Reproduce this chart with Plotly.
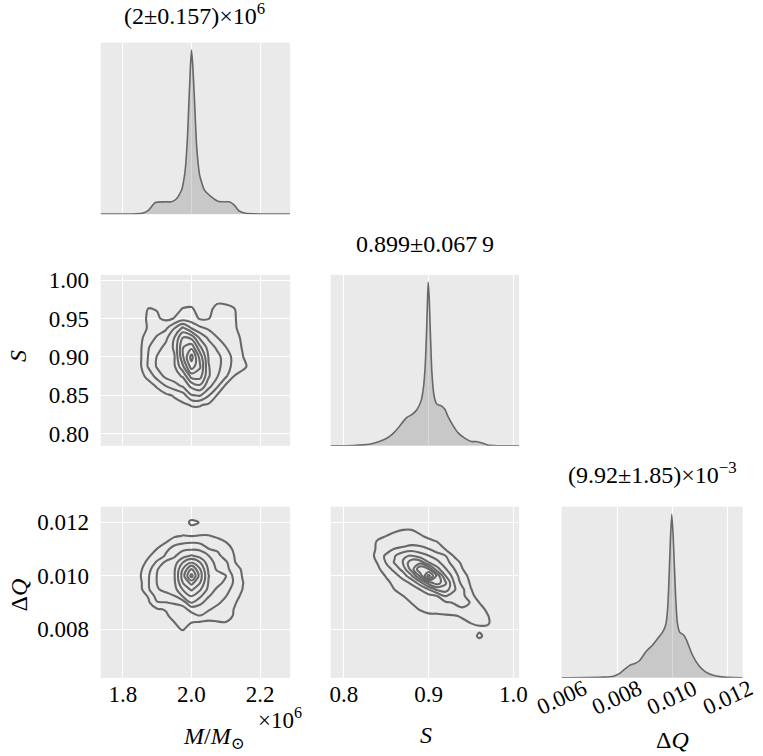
import plotly.graph_objects as go

W, H = 763, 756

# ---------------- 1D marginals (relative density, peak = 1) ----------------
m_vals = [1.734, 1.827, 1.856, 1.875, 1.894, 1.923, 1.942, 1.957, 1.971, 1.981, 1.988, 1.992,
          1.997, 2.000, 2.004, 2.0096, 2.015, 2.024, 2.038, 2.058, 2.077, 2.096, 2.110, 2.125,
          2.139, 2.158, 2.201, 2.287]
m_dens = [0.002, 0.002, 0.006, 0.026, 0.072, 0.076, 0.076, 0.096, 0.147, 0.257, 0.458, 0.659,
          0.90, 1.0, 0.90, 0.659, 0.418, 0.237, 0.147, 0.106, 0.080, 0.076, 0.076, 0.056,
          0.020, 0.006, 0.002, 0.002]

s_vals = [0.7845, 0.8109, 0.8302, 0.8419, 0.8496, 0.8574, 0.8651, 0.8709, 0.8748, 0.8806, 0.8864,
          0.8915, 0.8942, 0.8961, 0.8977, 0.8988, 0.8996, 0.9008, 0.9023, 0.9039, 0.9066, 0.9097,
          0.9155, 0.9194, 0.9233, 0.9291, 0.9349, 0.9426, 0.9504, 0.9562, 0.9620, 0.9698, 0.9814,
          1.0066]
s_dens = [0.0, 0.002, 0.009, 0.026, 0.043, 0.072, 0.115, 0.154, 0.175, 0.192, 0.222,
          0.281, 0.367, 0.495, 0.708, 0.900, 1.0, 0.900, 0.665, 0.452, 0.303, 0.256,
          0.243, 0.222, 0.175, 0.122, 0.079, 0.047, 0.026, 0.026, 0.019, 0.004, 0.0,
          0.0]

q_vals = [0.00599, 0.006213, 0.007515, 0.00787, 0.008107, 0.008284, 0.008462, 0.008639, 0.008817,
          0.009053, 0.00929, 0.009467, 0.009645, 0.009763, 0.009822, 0.009858, 0.009893, 0.009929,
          0.009976, 0.010024, 0.010071, 0.010118, 0.010178, 0.01026, 0.010414, 0.010533, 0.01071,
          0.010947, 0.011183, 0.01142, 0.011775, 0.01254]
q_dens = [0.0, 0.0, 0.004, 0.010, 0.029, 0.054, 0.077, 0.087, 0.106,
          0.163, 0.202, 0.240, 0.279, 0.327, 0.413, 0.529, 0.683, 0.856,
          1.0, 0.875, 0.683, 0.490, 0.337, 0.279, 0.260, 0.221, 0.144,
          0.077, 0.038, 0.019, 0.006, 0.0]

# ---------------- 2D densities (contour-level values) ----------------
m_nodes = [1.825, 1.85, 1.875, 1.9, 1.925, 1.95, 1.975, 2.0, 2.025, 2.05, 2.075, 2.1, 2.125, 2.15, 2.175]
s_nodes_a = [0.825, 0.8375, 0.85, 0.8625, 0.875, 0.8875, 0.9, 0.9125, 0.925, 0.9375, 0.95, 0.9625, 0.975]
dens_ms = [
    [0.1, 0.1, 0.1, 0.15, 0.2, 0.3, 0.4, 0.6, 0.6, 0.4, 0.3, 0.2, 0.1, 0.1, 0.1],
    [0.1, 0.15, 0.2, 0.3, 0.4, 0.6, 0.8, 1.05, 1.05, 0.8, 0.5, 0.3, 0.2, 0.1, 0.1],
    [0.1, 0.2, 0.3, 0.5, 0.75, 1.1, 1.5, 2.9, 3.05, 2.05, 0.9, 0.5, 0.3, 0.2, 0.1],
    [0.15, 0.4, 0.6, 1.13, 2.02, 2.55, 3.19, 4.3, 4.8, 3.38, 2.2, 0.8, 0.5, 0.3, 0.15],
    [0.2, 0.65, 1.3, 2.42, 3.23, 3.62, 4.1, 6.4, 6.4, 4.1, 3.07, 2.17, 0.95, 0.6, 0.3],
    [0.3, 0.8, 2.15, 3.12, 3.48, 3.84, 5.8, 8.5, 7.1, 4.05, 3.35, 2.43, 1.68, 1.2, 0.7],
    [0.3, 0.8, 2.1, 3.07, 3.5, 3.9, 6.87, 9.4, 6.6, 3.9, 3.32, 2.5, 1.68, 1.02, 0.45],
    [0.3, 0.8, 1.95, 2.6, 3.29, 4.15, 6.95, 7.7, 5.2, 3.55, 2.8, 2.02, 1.45, 0.9, 0.4],
    [0.3, 0.8, 1.4, 2.15, 2.72, 4.02, 6.02, 5.7, 3.78, 2.8, 2.02, 1.63, 1.25, 0.85, 0.35],
    [0.2, 0.6, 1.1, 1.45, 1.8, 2.95, 4.2, 2.95, 2.2, 1.82, 1.6, 1.35, 1.1, 0.7, 0.3],
    [0.2, 0.5, 1.2, 1.1, 0.8, 1.02, 1.5, 1.4, 0.9, 0.95, 1.35, 1.35, 1.1, 0.5, 0.2],
    [0.2, 0.5, 1.03, 0.95, 0.6, 0.75, 1.03, 1.08, 0.7, 0.8, 1.2, 1.2, 1.03, 0.45, 0.2],
    [0.2, 0.3, 0.6, 0.55, 0.4, 0.4, 0.6, 0.6, 0.4, 0.6, 0.8, 0.75, 0.5, 0.3, 0.2],
]

q_nodes_b = [0.00775, 0.008, 0.00825, 0.0085, 0.00875, 0.009, 0.00925, 0.0095, 0.00975, 0.010,
             0.01025, 0.0105, 0.01075, 0.011, 0.01125, 0.0115, 0.01175, 0.012, 0.01225]
dens_mq = [
    [0.1, 0.1, 0.1, 0.15, 0.25, 0.45, 0.6, 0.4, 0.3, 0.25, 0.25, 0.2, 0.15, 0.1, 0.1],
    [0.1, 0.1, 0.15, 0.25, 0.4, 0.8, 1.05, 0.65, 0.5, 0.45, 0.45, 0.45, 0.35, 0.15, 0.1],
    [0.1, 0.1, 0.2, 0.3, 0.6, 0.97, 1.3, 0.98, 0.85, 0.85, 0.9, 0.95, 0.7, 0.2, 0.1],
    [0.1, 0.1, 0.3, 0.6, 0.85, 1.25, 1.5, 1.55, 1.95, 1.3, 1.35, 1.35, 0.9, 0.3, 0.1],
    [0.1, 0.2, 0.5, 0.9, 1.05, 1.5, 1.6, 2.35, 2.5, 2.15, 1.5, 1.4, 0.95, 0.4, 0.1],
    [0.1, 0.35, 0.85, 1.9, 1.95, 2.1, 2.4, 4.02, 3.2, 2.6, 2.3, 1.45, 1.1, 0.6, 0.2],
    [0.2, 0.5, 1.1, 2.5, 2.6, 2.95, 4.1, 5.05, 4.2, 3.05, 2.55, 2.05, 1.3, 0.8, 0.25],
    [0.25, 0.7, 1.9, 2.9, 3.3, 3.6, 5.1, 6.2, 5.15, 3.7, 2.8, 2.35, 1.65, 0.95, 0.35],
    [0.3, 0.75, 1.95, 3.05, 3.45, 3.8, 6.03, 7.35, 6.03, 3.9, 3.42, 2.7, 1.85, 1.02, 0.4],
    [0.3, 0.9, 1.92, 3.06, 3.48, 3.89, 6.5, 9.4, 6.5, 4.02, 3.53, 3.05, 1.67, 0.9, 0.4],
    [0.3, 0.8, 1.64, 2.95, 3.4, 3.84, 6.05, 8.02, 6.05, 3.8, 2.83, 2.28, 1.53, 0.8, 0.3],
    [0.2, 0.6, 1.25, 2.2, 3.25, 3.5, 5.02, 6.1, 5.05, 3.4, 2.7, 2.2, 1.05, 0.6, 0.2],
    [0.15, 0.4, 0.9, 1.4, 2.1, 2.85, 3.6, 4.1, 3.6, 3.02, 2.35, 1.5, 0.98, 0.45, 0.15],
    [0.1, 0.3, 0.6, 1.02, 1.8, 2.3, 2.8, 2.9, 2.85, 2.02, 1.8, 1.4, 0.85, 0.35, 0.1],
    [0.1, 0.2, 0.4, 0.7, 0.97, 1.75, 1.85, 1.95, 1.85, 1.5, 1.3, 1.02, 0.6, 0.2, 0.1],
    [0.1, 0.1, 0.2, 0.4, 0.6, 0.8, 1.02, 0.95, 1.02, 1.03, 0.85, 0.7, 0.4, 0.15, 0.1],
    [0.1, 0.1, 0.1, 0.2, 0.3, 0.45, 0.6, 0.7, 0.65, 0.55, 0.4, 0.3, 0.2, 0.1, 0.1],
    [0.1, 0.1, 0.1, 0.1, 0.15, 0.25, 0.5, 1.2, 0.95, 0.4, 0.2, 0.15, 0.1, 0.1, 0.1],
    [0.1, 0.1, 0.1, 0.1, 0.1, 0.15, 0.3, 0.6, 0.5, 0.25, 0.1, 0.1, 0.1, 0.1, 0.1],
]

s_nodes_c = [0.82, 0.83, 0.84, 0.85, 0.86, 0.87, 0.88, 0.89, 0.90, 0.91, 0.92, 0.93, 0.94, 0.95,
             0.96, 0.97, 0.98]
q_nodes_c = [0.0075, 0.00775, 0.008, 0.00825, 0.0085, 0.00875, 0.009, 0.00925, 0.0095, 0.00975,
             0.010, 0.01025, 0.0105, 0.01075, 0.011, 0.01125, 0.0115, 0.01175, 0.012, 0.01225]
dens_sq = [
    [0.1, 0.1, 0.1, 0.1, 0.1, 0.1, 0.1, 0.1, 0.1, 0.1, 0.1, 0.1, 0.15, 0.3, 0.5, 0.3, 0.1],
    [0.1, 0.1, 0.1, 0.1, 0.1, 0.1, 0.1, 0.1, 0.15, 0.2, 0.2, 0.25, 0.3, 0.5, 1.2, 0.55, 0.2],
    [0.1, 0.1, 0.1, 0.1, 0.1, 0.1, 0.15, 0.2, 0.25, 0.3, 0.3, 0.4, 0.5, 0.7, 0.8, 0.75, 0.35],
    [0.1, 0.1, 0.1, 0.1, 0.1, 0.15, 0.2, 0.3, 0.4, 0.4, 0.5, 0.6, 0.8, 1.02, 1.15, 1.1, 0.5],
    [0.1, 0.1, 0.1, 0.1, 0.15, 0.2, 0.4, 0.6, 0.85, 0.8, 0.85, 0.9, 1.1, 1.3, 1.35, 1.03, 0.5],
    [0.1, 0.1, 0.1, 0.1, 0.2, 0.35, 0.7, 1.05, 1.2, 1.35, 1.5, 1.7, 1.9, 1.6, 1.3, 0.8, 0.3],
    [0.1, 0.1, 0.1, 0.1, 0.3, 0.6, 1.02, 1.3, 1.5, 1.6, 1.8, 2.05, 2.2, 1.95, 0.98, 0.5, 0.15],
    [0.1, 0.1, 0.1, 0.2, 0.5, 0.98, 1.3, 1.5, 1.6, 1.98, 3.05, 2.6, 2.3, 1.15, 0.75, 0.4, 0.1],
    [0.1, 0.1, 0.2, 0.5, 1.02, 1.35, 1.5, 2.02, 3.02, 4.3, 4.55, 3.15, 2.2, 1.02, 0.55, 0.3, 0.1],
    [0.1, 0.2, 0.4, 0.8, 1.2, 1.6, 2.2, 3.6, 5.6, 6.6, 5.15, 2.98, 1.6, 0.85, 0.4, 0.2, 0.1],
    [0.1, 0.3, 0.6, 1.05, 1.6, 2.4, 3.8, 6.2, 9.4, 6.7, 4.02, 2.55, 1.35, 0.7, 0.3, 0.15, 0.1],
    [0.1, 0.3, 0.8, 1.5, 2.3, 3.4, 5.45, 7.95, 7.02, 4.4, 3.1, 2.05, 1.02, 0.5, 0.2, 0.1, 0.1],
    [0.15, 0.5, 1.05, 2.05, 3.1, 4.05, 5.7, 5.7, 4.05, 3.3, 2.4, 1.55, 0.75, 0.35, 0.15, 0.1, 0.1],
    [0.2, 0.6, 1.3, 2.2, 2.9, 3.9, 4.05, 3.4, 3.05, 2.5, 2.02, 0.9, 0.4, 0.2, 0.1, 0.1, 0.1],
    [0.2, 0.7, 1.1, 1.5, 2.05, 2.2, 2.6, 2.5, 2.05, 1.5, 0.95, 0.5, 0.2, 0.1, 0.1, 0.1, 0.1],
    [0.2, 0.6, 1.1, 1.3, 1.5, 1.6, 1.6, 1.4, 1.2, 1.03, 0.7, 0.3, 0.15, 0.1, 0.1, 0.1, 0.1],
    [0.15, 0.4, 0.8, 0.98, 1.2, 1.3, 1.3, 1.05, 0.85, 0.7, 0.4, 0.2, 0.1, 0.1, 0.1, 0.1, 0.1],
    [0.1, 0.2, 0.4, 0.6, 0.8, 0.95, 0.95, 0.8, 0.6, 0.4, 0.2, 0.1, 0.1, 0.1, 0.1, 0.1, 0.1],
    [0.1, 0.1, 0.2, 0.3, 0.4, 0.5, 0.6, 0.5, 0.3, 0.2, 0.1, 0.1, 0.1, 0.1, 0.1, 0.1, 0.1],
    [0.1, 0.1, 0.1, 0.1, 0.1, 0.1, 0.1, 0.1, 0.1, 0.1, 0.1, 0.1, 0.1, 0.1, 0.1, 0.1, 0.1],
]

# ---------------- text ----------------
titles = ["(2±0.157)×10<sup>6</sup>", "0.899±0.067\u20099", "(9.92±1.85)×10<sup>−3</sup>"]
m_ticks = [1.8, 2.0, 2.2]
m_ticktext = ["1.8", "2.0", "2.2"]
s_ticks_y = [0.80, 0.85, 0.90, 0.95, 1.00]
s_ticktext_y = ["0.80", "0.85", "0.90", "0.95", "1.00"]
s_ticks_x = [0.8, 0.9, 1.0]
s_ticktext_x = ["0.8", "0.9", "1.0"]
q_ticks = [0.008, 0.010, 0.012]
q_ticktext = ["0.008", "0.010", "0.012"]
q_ticks_diag = [0.006, 0.008, 0.010, 0.012]
q_ticktext_diag = ["0.006", "0.008", "0.010", "0.012"]

M_RANGE = [1.735, 2.288]
S_RANGE = [0.7845, 1.0068]
Q_RANGE_Y = [0.00619, 0.01259]
Q_RANGE_X = [0.00599, 0.01254]
D_RANGE = [0, 1.046]

# ---------------- styling ----------------
FONT = "Times New Roman, Liberation Serif, DejaVu Serif, serif"
BG = "#EAEAEA"
LINE = "rgb(104,104,104)"
FILL = "rgba(100,100,100,0.25)"
TICK_FS = 23
TITLE_FS = 24

cols_px = [(101, 293), (334, 525), (568, 751.5)]
rows_px = [(36, 209.5), (270.7, 443.5), (505, 678)]


def xdom(c):
    return [cols_px[c][0] / W, cols_px[c][1] / W]


def ydom(r):
    return [1 - rows_px[r][1] / H, 1 - rows_px[r][0] / H]


def px_x(v):
    return v / W


def px_y(v):
    return 1 - v / H


def axis(domain, rng, tickvals=None, ticktext=None, labels=False, grid=True, anchor=None,
         ticklen=6, standoff=0):
    d = dict(domain=domain, range=rng, showgrid=grid, gridcolor="white", gridwidth=1.4,
             zeroline=False, showline=False, fixedrange=True,
             showticklabels=labels, tickfont=dict(family=FONT, size=TICK_FS, color="black"),
             ticks="outside" if (labels and ticklen > 0) else "", ticklen=max(ticklen, 1),
             tickcolor="rgba(0,0,0,0)", ticklabelstandoff=standoff)
    if tickvals is not None:
        d["tickvals"] = tickvals
        d["ticktext"] = ticktext if ticktext is not None else [str(t) for t in tickvals]
    else:
        d["showgrid"] = False
    if anchor:
        d["anchor"] = anchor
    return d


fig = go.Figure()


def diag(xv, yv, xa, ya):
    fig.add_trace(go.Scatter(x=xv, y=yv, mode="lines", xaxis=xa, yaxis=ya,
                             line=dict(color=LINE, width=1.6, shape="spline", smoothing=0.5),
                             fill="tozeroy", fillcolor=FILL, hoverinfo="skip", showlegend=False))


def contour(xn, yn, z, xa, ya):
    fig.add_trace(go.Contour(x=xn, y=yn, z=z, xaxis=xa, yaxis=ya,
                             contours=dict(start=0.99, end=8.99, size=1, coloring="lines",
                                           showlabels=False),
                             colorscale=[[0, LINE], [1, LINE]], showscale=False,
                             line=dict(color=LINE, width=2.1, smoothing=1.0),
                             hoverinfo="skip", showlegend=False))


diag(m_vals, m_dens, "x", "y")
contour(m_nodes, s_nodes_a, dens_ms, "x2", "y2")
diag(s_vals, s_dens, "x3", "y3")
contour(m_nodes, q_nodes_b, dens_mq, "x4", "y4")
contour(s_nodes_c, q_nodes_c, dens_sq, "x5", "y5")
diag(q_vals, q_dens, "x6", "y6")

layout = dict(
    width=W, height=H, margin=dict(l=0, r=0, t=0, b=0),
    paper_bgcolor="white", plot_bgcolor=BG, showlegend=False,
    font=dict(family=FONT, size=TICK_FS, color="black"),
    xaxis=axis(xdom(0), M_RANGE, m_ticks, m_ticktext, anchor="y"),
    yaxis=axis(ydom(0), D_RANGE, anchor="x"),
    xaxis2=axis(xdom(0), M_RANGE, m_ticks, m_ticktext, anchor="y2"),
    yaxis2=axis(ydom(1), S_RANGE, s_ticks_y, s_ticktext_y, labels=True, anchor="x2"),
    xaxis3=axis(xdom(1), S_RANGE, s_ticks_x, s_ticktext_x, anchor="y3"),
    yaxis3=axis(ydom(1), D_RANGE, anchor="x3"),
    xaxis4=axis(xdom(0), M_RANGE, m_ticks, m_ticktext, labels=True, anchor="y4", ticklen=0),
    yaxis4=axis(ydom(2), Q_RANGE_Y, q_ticks, q_ticktext, labels=True, anchor="x4"),
    xaxis5=axis(xdom(1), S_RANGE, s_ticks_x, s_ticktext_x, labels=True, anchor="y5", ticklen=0),
    yaxis5=axis(ydom(2), Q_RANGE_Y, q_ticks, q_ticktext, anchor="x5"),
    xaxis6=axis(xdom(2), Q_RANGE_X, q_ticks_diag, q_ticktext_diag, anchor="y6"),
    yaxis6=axis(ydom(2), D_RANGE, anchor="x6"),
)

ann = []


def text(x, y, s, size=TITLE_FS, angle=0):
    ann.append(dict(x=px_x(x), y=px_y(y), xref="paper", yref="paper", text=s, showarrow=False,
                    xanchor="center", yanchor="middle", textangle=angle,
                    font=dict(family=FONT, size=size, color="black")))


text(196, 7, titles[0])
text(430, 240, titles[1])
text(660, 471, titles[2])
text(18, 353, "<i>S</i>", angle=-90)
text(18, 594, "Δ<i>Q</i>", angle=-90)
text(216, 739, "<i>M</i>/<i>M</i><sub>⊙</sub>")
text(283, 719, "×10<sup>6</sup>", size=TICK_FS)
text(431, 736, "<i>S</i>")
text(680, 741, "Δ<i>Q</i>")

for tv, tt in zip(q_ticks_diag, q_ticktext_diag):
    ann.append(dict(x=tv, y=px_y(698), xref="x6", yref="paper", text=tt, showarrow=False,
                    xanchor="center", yanchor="middle", textangle=-25,
                    font=dict(family=FONT, size=TICK_FS, color="black")))

layout["annotations"] = ann
fig.update_layout(**layout)
fig.write_html("out.html", config={"displayModeBar": False},
               post_script="document.body.style.margin='0px';document.body.style.padding='0px';")
